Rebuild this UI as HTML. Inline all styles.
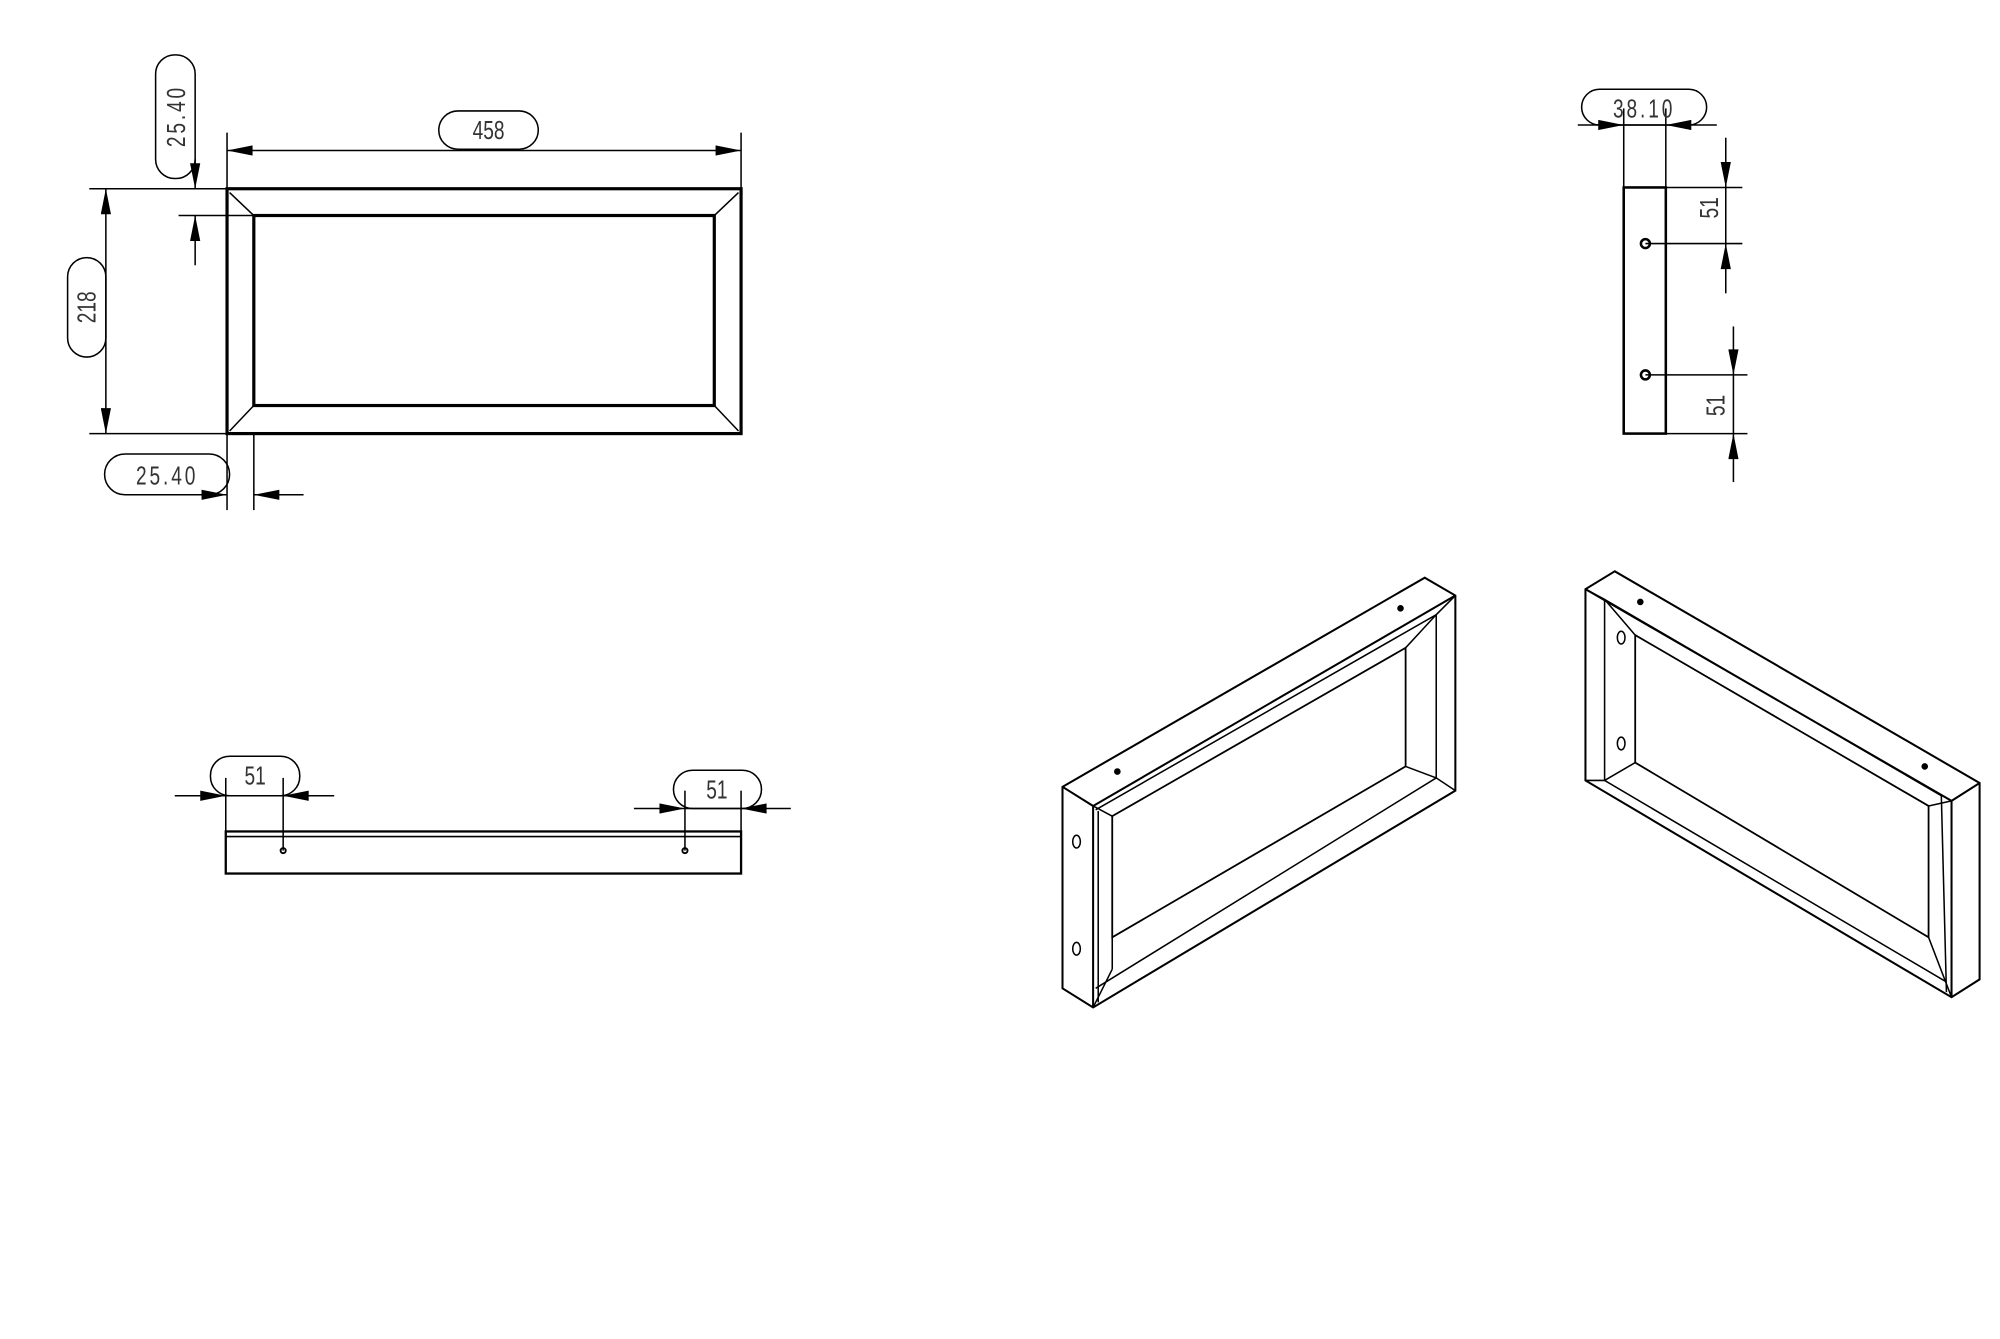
<!DOCTYPE html>
<html><head><meta charset="utf-8"><style>
html,body{margin:0;padding:0;background:#fff}
svg{display:block}
text{font-family:"Liberation Sans",sans-serif;font-size:20px;fill:#333;font-weight:300}
</style></head><body>
<svg width="2000" height="1339" viewBox="0 0 1568 1050" preserveAspectRatio="none" xmlns="http://www.w3.org/2000/svg">
<defs>
<marker id="a" viewBox="0 0 10 4" refX="10" refY="2" markerWidth="22" markerHeight="8" markerUnits="userSpaceOnUse" orient="auto"><path d="M0,0L10,2L0,4z" fill="#000"/></marker>
</defs>
<rect width="1568" height="1050" fill="#fff"/>
<g stroke="#000" fill="none" stroke-width="1.2">
<!-- top view -->
<rect x="178" y="148" width="403" height="192" stroke-width="2.5"/>
<rect x="199" y="169" width="361" height="149" stroke-width="2.5"/>
<line x1="180" y1="151" x2="199" y2="169"/><line x1="579" y1="151" x2="560" y2="169"/>
<line x1="180" y1="338" x2="199" y2="318"/><line x1="579" y1="338" x2="560" y2="318"/>
<line x1="178" y1="104" x2="178" y2="148"/><line x1="581" y1="104" x2="581" y2="148"/>
<line x1="200" y1="118" x2="178" y2="118" marker-end="url(#a)"/><line x1="200" y1="118" x2="581" y2="118" marker-end="url(#a)"/>
<rect x="344" y="87" width="78" height="30" rx="15"/>
<line x1="70" y1="148" x2="178" y2="148"/><line x1="70" y1="340" x2="178" y2="340"/>
<line x1="83" y1="240" x2="83" y2="148" marker-end="url(#a)"/><line x1="83" y1="240" x2="83" y2="340" marker-end="url(#a)"/>
<rect x="53" y="202" width="30" height="78" rx="15"/>
<line x1="153" y1="125" x2="153" y2="148" marker-end="url(#a)"/><line x1="153" y1="208" x2="153" y2="169" marker-end="url(#a)"/>
<line x1="140" y1="169" x2="199" y2="169"/>
<rect x="122" y="43" width="31" height="97" rx="15"/>
<line x1="178" y1="340" x2="178" y2="400"/><line x1="199" y1="340" x2="199" y2="400"/>
<line x1="152" y1="388" x2="178" y2="388" marker-end="url(#a)"/><line x1="238" y1="388" x2="199" y2="388" marker-end="url(#a)"/>
<rect x="82" y="356" width="98" height="32" rx="16"/>
<!-- side view -->
<rect x="1273" y="147" width="33" height="193" stroke-width="2"/>
<circle cx="1290" cy="191" r="3.5" stroke-width="2"/><circle cx="1290" cy="294" r="3.5" stroke-width="2"/>
<line x1="1273" y1="85" x2="1273" y2="147"/><line x1="1306" y1="85" x2="1306" y2="147"/>
<line x1="1237" y1="98" x2="1273" y2="98" marker-end="url(#a)"/><line x1="1346" y1="98" x2="1306" y2="98" marker-end="url(#a)"/>
<line x1="1273" y1="98" x2="1306" y2="98"/>
<rect x="1240" y="70" width="98" height="28" rx="14"/>
<line x1="1306" y1="147" x2="1366" y2="147"/><line x1="1290" y1="191" x2="1366" y2="191"/>
<line x1="1353" y1="108" x2="1353" y2="147" marker-end="url(#a)"/><line x1="1353" y1="230" x2="1353" y2="191" marker-end="url(#a)"/><line x1="1353" y1="147" x2="1353" y2="191"/>
<line x1="1290" y1="294" x2="1370" y2="294"/><line x1="1306" y1="340" x2="1370" y2="340"/>
<line x1="1359" y1="256" x2="1359" y2="294" marker-end="url(#a)"/><line x1="1359" y1="378" x2="1359" y2="340" marker-end="url(#a)"/><line x1="1359" y1="294" x2="1359" y2="340"/>
<!-- bottom view -->
<rect x="177" y="652" width="404" height="33" stroke-width="1.8"/>
<line x1="177" y1="656" x2="581" y2="656"/>
<circle cx="222" cy="667" r="2" stroke-width="1.5"/><circle cx="537" cy="667" r="2" stroke-width="1.5"/>
<line x1="177" y1="610" x2="177" y2="652"/><line x1="222" y1="610" x2="222" y2="667"/>
<line x1="137" y1="624" x2="177" y2="624" marker-end="url(#a)"/><line x1="262" y1="624" x2="222" y2="624" marker-end="url(#a)"/><line x1="177" y1="624" x2="222" y2="624"/>
<rect x="165" y="593" width="70" height="31" rx="15"/>
<line x1="537" y1="620" x2="537" y2="667"/><line x1="581" y1="620" x2="581" y2="652"/>
<line x1="497" y1="634" x2="537" y2="634" marker-end="url(#a)"/><line x1="620" y1="634" x2="581" y2="634" marker-end="url(#a)"/><line x1="537" y1="634" x2="581" y2="634"/>
<rect x="528" y="604" width="69" height="30" rx="15"/>
<!-- left iso -->
<path d="M833,617L1117,453L1141,467L1141,620L857,790L833,775Z" stroke-width="1.6"/>
<path d="M833,617L857,632L857,790M857,632L1141,467" stroke-width="1.6"/>
<path d="M859,635L1126,482L1126,610L859,775"/>
<path d="M872,640L1102,508L1102,601L872,735Z" stroke-width="1.4"/>
<path d="M872,640L872,760M857,632L872,640M1141,467L1126,482L1102,508M1141,620L1126,610L1102,601M857,790L872,760"/>
<path d="M861,636L861,786"/>
<ellipse cx="844" cy="660" rx="3" ry="5"/><ellipse cx="844" cy="744" rx="3" ry="5"/>
<circle cx="876" cy="605" r="2" fill="#000"/><circle cx="1098" cy="477" r="2" fill="#000"/>
<!-- right iso -->
<path d="M1266,448L1552,614L1552,768L1530,782L1243,612L1243,462Z" stroke-width="1.6"/>
<path d="M1243,462L1530,628L1530,782M1530,628L1552,614" stroke-width="1.6"/>
<path d="M1258,470L1522,624L1526,778M1258,470L1258,612L1526,770"/>
<path d="M1282,498L1512,632L1512,735L1282,598Z" stroke-width="1.4"/>
<path d="M1243,462L1258,470L1282,498M1243,612L1258,612L1282,598M1530,628L1512,632M1530,782L1512,735"/>
<ellipse cx="1271" cy="500" rx="3" ry="5"/><ellipse cx="1271" cy="583" rx="3" ry="5"/>
<circle cx="1286" cy="472" r="2" fill="#000"/><circle cx="1509" cy="601" r="2" fill="#000"/>
</g>
<g>
<text transform="translate(383 109) scale(0.75 1)" text-anchor="middle">458</text>
<text transform="translate(75 241) rotate(-90) scale(0.75 1)" text-anchor="middle">218</text>
<text transform="translate(145 91) rotate(-90) scale(0.75 1)" text-anchor="middle" letter-spacing="3">25.40</text>
<text transform="translate(131 380) scale(0.75 1)" text-anchor="middle" letter-spacing="3">25.40</text>
<text transform="translate(1289 92) scale(0.75 1)" text-anchor="middle" letter-spacing="3">38.10</text>
<text transform="translate(1347 163) rotate(-90) scale(0.75 1)" text-anchor="middle">51</text>
<text transform="translate(1352 318) rotate(-90) scale(0.75 1)" text-anchor="middle">51</text>
<text transform="translate(200 615) scale(0.75 1)" text-anchor="middle">51</text>
<text transform="translate(562 626) scale(0.75 1)" text-anchor="middle">51</text>
</g>
</svg>
</body></html>
